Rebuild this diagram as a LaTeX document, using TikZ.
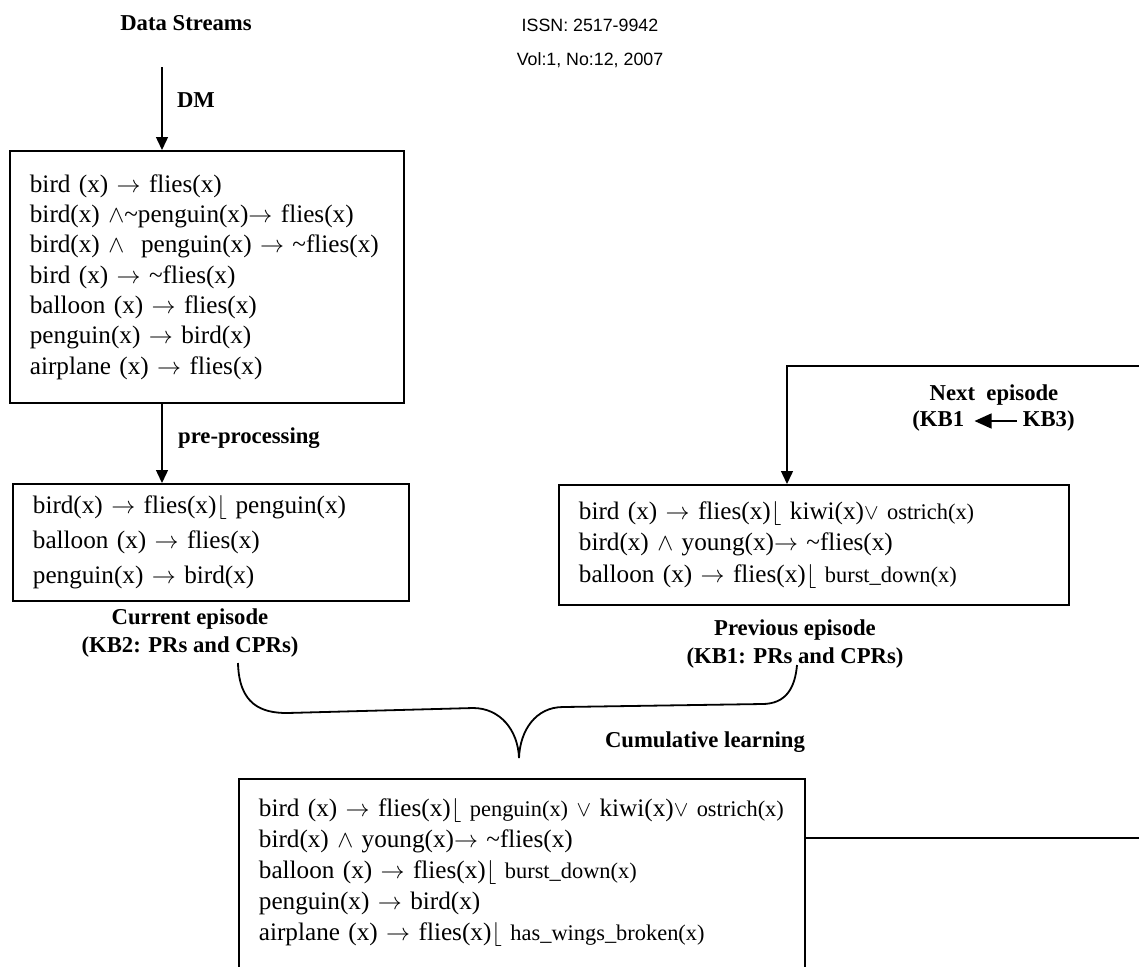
\documentclass[tikz,border=0pt]{standalone}
\usepackage{fontspec}
\setmainfont{Liberation Serif}
\newfontfamily\hdrfont{Liberation Sans}
\usetikzlibrary{arrows.meta}
\newcommand{\ruleto}{$\rightarrow$}
\newcommand{\ruleand}{$\wedge$}
\newcommand{\ruleor}{$\vee$}
\newcommand{\ruleexc}{$\lfloor$}
\newcommand{\smtxt}[1]{{\fontsize{11.2}{13}\selectfont #1}}
\begin{document}
\begin{tikzpicture}[x=0.5pt,y=-0.5pt,>={Triangle[length=6.5pt,width=6pt]},
	rulebox/.style n args={3}{draw,line width=.9pt,anchor=north west,align=left,inner xsep=10pt,inner ysep=0pt,
		text width=#1,minimum height=#2,font=\fontsize{12.6}{#3}\selectfont},
	lbl/.style={font=\fontsize{11.35}{14}\selectfont\bfseries,align=center,inner sep=0pt},
	hdr/.style={font=\hdrfont\fontsize{8.9}{10}\selectfont,inner sep=0pt},
	conn/.style={line width=.7pt}]
	\clip (0,0) rectangle (1139,966);
	% journal header
	\node[hdr] (issn) at (590,25) {ISSN: 2517-9942};
	\node[hdr] (vol) at (590,60) {Vol:1, No:12, 2007};
	% left column
	\node[lbl] (datas) at (186,23) {Data Streams};
	\node[rulebox={177pt}{126pt}{15.15pt}] (rulesa) at (9,150) {bird (x) \ruleto\ flies(x)\\
		bird(x) \ruleand\textasciitilde penguin(x)\ruleto\ flies(x)\\
		bird(x) \ruleand\ \ penguin(x) \ruleto\ \textasciitilde flies(x)\\
		bird (x) \ruleto\ \textasciitilde flies(x)\\
		balloon (x) \ruleto\ flies(x)\\
		penguin(x) \ruleto\ bird(x)\\
		airplane (x) \ruleto\ flies(x)};
	\node[rulebox={178pt}{58.5pt}{17.5pt}] (rulesb) at (12,483) {bird(x) \ruleto\ flies(x)\ruleexc\ penguin(x)\\
		balloon (x) \ruleto\ flies(x)\\
		penguin(x) \ruleto\ bird(x)};
	\coordinate (dmtop) at (162,67);
	\draw[conn,->] (dmtop) -- (dmtop |- rulesa.north);
	\node[lbl] (dm) at (196,100) {DM};
	\draw[conn,->] (rulesa.south -| dmtop) -- (rulesb.north -| dmtop);
	\node[lbl] (prep) at (249,438) {pre-processing};
	\node[lbl] (curep) at (190,633) {Current episode\\(KB2: PRs and CPRs)};
	% right column
	\node[rulebox={235pt}{60pt}{15.75pt}] (rulesc) at (558,484) {bird (x) \ruleto\ flies(x)\ruleexc\ kiwi(x)\smtxt{\ruleor\ ostrich(x)}\\
		bird(x) \ruleand\ young(x)\ruleto\ \textasciitilde flies(x)\\
		balloon (x) \ruleto\ flies(x)\ruleexc\ \smtxt{burst\_down(x)}};
	\node[lbl] (prevep) at (795,644) {Previous episode\\(KB1: PRs and CPRs)};
	\node[lbl] (nextep) at (994,395) {Next\ \ episode};
	\node[lbl,anchor=west] (kbone) at (912,421) {(KB1};
	\node[lbl,anchor=east] (kbthree) at (1075,421) {KB3)};
	\draw[conn,-{Triangle[length=8.5pt,width=7.5pt]},shorten >=5pt,shorten <=3pt] (kbthree.west) -- (kbone.east);
	% merged knowledge base
	\node[rulebox={263pt}{122pt}{15.5pt}] (rulesd) at (238,778) {bird (x) \ruleto\ flies(x)\ruleexc\ \smtxt{penguin(x) \ruleor}\ kiwi(x)\smtxt{\ruleor\ ostrich(x)}\\
		bird(x) \ruleand\ young(x)\ruleto\ \textasciitilde flies(x)\\
		balloon (x) \ruleto\ flies(x)\ruleexc\ \smtxt{burst\_down(x)}\\
		penguin(x) \ruleto\ bird(x)\\
		airplane (x) \ruleto\ flies(x)\ruleexc\ \smtxt{has\_wings\_broken(x)}\\
		\mbox{}\\ \mbox{}};
	\node[lbl] (cumul) at (705,742) {Cumulative learning};
	\draw[line width=.9pt] (238,663) .. controls (239,705) and (262,713) .. (287,713) -- (473,708)
		.. controls (500,708) and (518,730) .. (519,758) .. controls (520,730) and (536,707) .. (563,707)
		-- (762,704) .. controls (786,704) and (795,688) .. (797,665);
	% feedback to the next episode
	\coordinate (fbstart) at (804,838);
	\coordinate (fbturn) at (787,366);
	\draw[conn,->] (fbstart) -- (1160,838) |- (fbturn) -- (fbturn |- rulesc.north);
\end{tikzpicture}
\end{document}
